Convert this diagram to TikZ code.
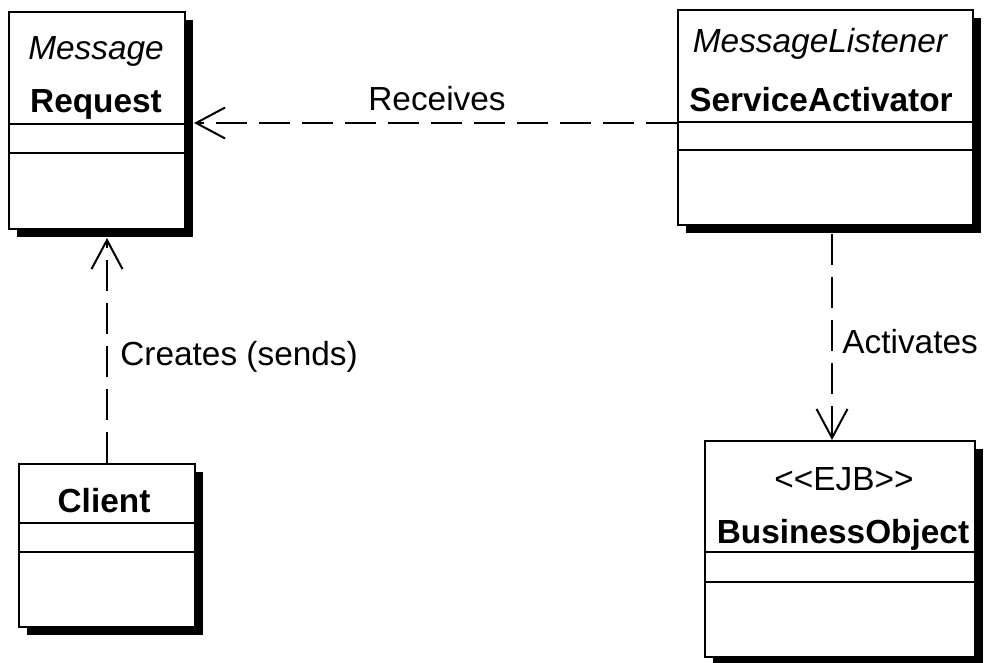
\documentclass[tikz,border=0pt]{standalone}
\usepackage{fontspec}
\setmainfont{Liberation Sans}
\usepackage{tikz}
\usetikzlibrary{arrows.meta, shadows, calc}
\tikzset{
	classnode/.style={
			draw=black,
			line width=0.04cm,
			fill=white,
			inner sep=0pt,
			drop shadow={shadow xshift=0.16cm, shadow yshift=-0.16cm, fill=black, opacity=1}
		},
	divider/.style={
			draw=black,
			line width=0.04cm
		},
	textnode/.style={
			inner sep=0pt,
			font=\fontsize{19pt}{23pt}\selectfont
		},
	namenode/.style={
			textnode,
			font=\fontsize{19pt}{23pt}\selectfont\bfseries
		},
	stereonode/.style={
			textnode,
			font=\fontsize{19pt}{23pt}\selectfont\itshape
		},
	depline/.style={
			line width=0.03cm,
			dash pattern=on 0.62cm off 0.24cm,
			-{Straight Barb[length=0.58cm, width=0.62cm, line width=0.04cm]}
		}
}
\begin{document}
\begin{tikzpicture}[x=0.02cm, y=-0.02cm]
\useasboundingbox (0,0) rectangle (986,662);

\node[classnode, minimum width=3.52cm, minimum height=4.34cm] (req) at (97,120.5) {};
\node[classnode, minimum width=5.9cm, minimum height=4.3cm] (sa) at (825.5,117.5) {};
\node[classnode, minimum width=5.4cm, minimum height=4.32cm] (bo) at (840,549) {};
\node[classnode, minimum width=3.52cm, minimum height=3.26cm] (cli) at (107,545.5) {};

\draw[divider] (req.west |- 0,124) -- (req.east |- 0,124);
\draw[divider] (req.west |- 0,153) -- (req.east |- 0,153);
\draw[divider] (sa.west |- 0,122) -- (sa.east |- 0,122);
\draw[divider] (sa.west |- 0,150) -- (sa.east |- 0,150);
\draw[divider] (bo.west |- 0,552) -- (bo.east |- 0,552);
\draw[divider] (bo.west |- 0,582) -- (bo.east |- 0,582);
\draw[divider] (cli.west |- 0,523) -- (cli.east |- 0,523);
\draw[divider] (cli.west |- 0,552) -- (cli.east |- 0,552);

\node[stereonode, anchor=base] (reqstereo) at (96,60) {Message};
\node[namenode, anchor=base] (reqname) at (96,113) {Request};
\node[stereonode, anchor=base] (sastereo) at (820,53) {MessageListener};
\node[namenode, anchor=base] (saname) at (821,112) {ServiceActivator};
\node[textnode, anchor=base] (bostereo) at (844,490) {{<}{<}EJB{>}{>}};
\node[namenode, anchor=base] (boname) at (843,543) {BusinessObject};
\node[namenode, anchor=base] (cliname) at (104,512) {Client};

\coordinate (recline) at (0,123);
\coordinate (actline) at (832,0);

\draw[depline] (sa.west |- recline) -- ([xshift=0.16cm]req.east |- recline);
\draw[depline] (cli.north) -- ([yshift=-0.16cm]req.south -| cli.north);
\draw[depline] ([yshift=-0.16cm]sa.south -| actline) -- (bo.north -| actline);

\node[textnode, anchor=base] (receives) at (437,111) {Receives};
\node[textnode, anchor=base west] (creates) at (120,365) {Creates (sends)};
\node[textnode, anchor=base west] (activates) at (842,353) {Activates};
\end{tikzpicture}
\end{document}
